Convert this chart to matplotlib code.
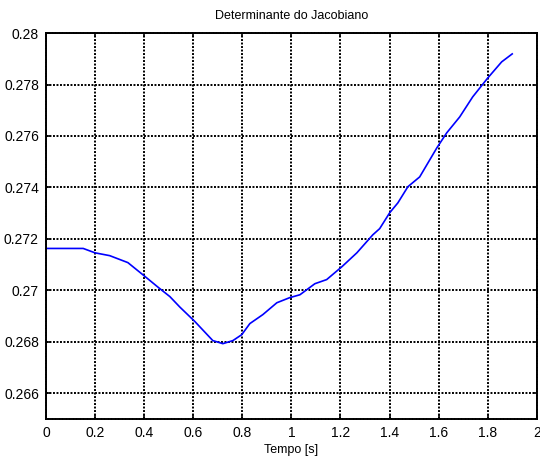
import matplotlib
matplotlib.use("Agg")
import matplotlib.pyplot as plt

# curva
tempo = [0.0, 0.05, 0.10, 0.152, 0.20, 0.26, 0.334, 0.40, 0.46, 0.505, 0.546, 0.607,
         0.68, 0.721, 0.762, 0.798, 0.831, 0.884, 0.941, 0.994, 1.035, 1.096, 1.144,
         1.206, 1.267, 1.332, 1.36, 1.401, 1.434, 1.475, 1.523, 1.593, 1.633, 1.686,
         1.739, 1.80, 1.857, 1.90]
det_jac = [0.27163, 0.27163, 0.27163, 0.27163, 0.27146, 0.27135, 0.27108, 0.27057,
           0.2701, 0.26976, 0.26935, 0.26879, 0.26805, 0.26793, 0.26805, 0.26828,
           0.26871, 0.26906, 0.26952, 0.26972, 0.26983, 0.27026, 0.27042, 0.27092,
           0.27146, 0.27216, 0.2724, 0.27302, 0.2734, 0.27403, 0.27441, 0.27554,
           0.27612, 0.27674, 0.27752, 0.27825, 0.27888, 0.27919]

xticks = [0, 0.2, 0.4, 0.6, 0.8, 1, 1.2, 1.4, 1.6, 1.8, 2]
xtick_labels = ['0', '0.2', '0.4', '0.6', '0.8', '1', '1.2', '1.4', '1.6', '1.8', '2']
yticks = [0.266, 0.268, 0.27, 0.272, 0.274, 0.276, 0.278, 0.28]
ytick_labels = ['0.266', '0.268', '0.27', '0.272', '0.274', '0.276', '0.278', '0.28']

plt.rcParams['font.family'] = ['Liberation Sans', 'DejaVu Sans']

fig = plt.figure(figsize=(5.4, 4.59), dpi=100)
ax = fig.add_axes([0.085, 0.087, 0.909, 0.841])

ax.plot(tempo, det_jac, color='#0000ff', linewidth=1.2)

ax.set_xlim(0, 2)
ax.set_ylim(0.265, 0.28)
ax.set_xticks(xticks)
ax.set_xticklabels(xtick_labels)
ax.set_yticks(yticks)
ax.set_yticklabels(ytick_labels)
ax.tick_params(direction='in', length=3, width=1.2, top=True, right=True,
               labelsize=10, pad=5)
ax.grid(True, color='black', linestyle=(0, (1, 0.8)), linewidth=1.4)
for s in ax.spines.values():
    s.set_linewidth(1.4)
    s.set_linestyle((0, (1, 0.8)))

ax.set_title('Determinante do Jacobiano', fontsize=9, pad=10)
ax.set_xlabel('Tempo [s]', fontsize=9, labelpad=3)

fig.savefig('out.png', dpi=100)
